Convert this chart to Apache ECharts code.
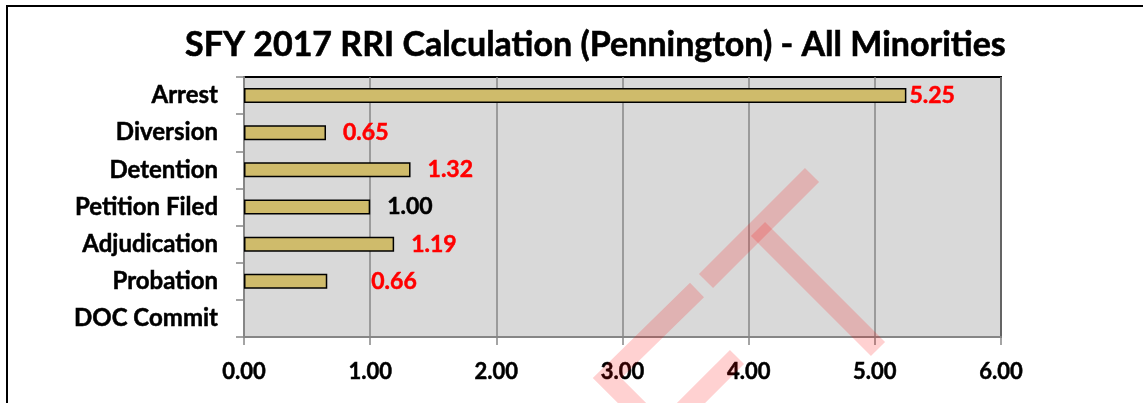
<!DOCTYPE html>
<html>
<head>
<meta charset="utf-8">
<title>SFY 2017 RRI Calculation</title>
<script src="https://cdn.jsdelivr.net/npm/echarts@6/dist/echarts.min.js"></script>
<style>
html,body{margin:0;padding:0;background:#fff;}
#main{width:1143px;height:403px;}
</style>
</head>
<body>
<div id="main"></div>
<script type="text/javascript">
// chart data
var categories = ['Arrest', 'Diversion', 'Detention', 'Petition Filed', 'Adjudication', 'Probation', 'DOC Commit'];
var rriValues = [5.25, 0.65, 1.32, 1.00, 1.19, 0.66, null];
var xTicks = ['0.00', '1.00', '2.00', '3.00', '4.00', '5.00', '6.00'];

var FONT = 'Lato, "Open Sans", sans-serif';
// label gap after the bar end, per category
var labelGap = [3, 17, 17, 17, 17, 44, 0];

var barData = [];
for (var i = 0; i < rriValues.length; i++) {
	var v = rriValues[i];
	if (v === null) { barData.push('-'); continue; }
	var c = (v === 1) ? '#000000' : '#ff0000';
	barData.push({
		value: v,
		label: {distance: labelGap[i], color: c, textBorderColor: c}
	});
}

var wm = 'rgba(255,0,0,0.18)';
var myChart = echarts.init(document.getElementById('main'), null, {renderer: 'canvas'});
var option = {
	animation: false,
	title: {
		text: 'SFY 2017 RRI Calculation (Pennington) - All Minorities',
		left: 180,
		top: 23,
		textStyle: {fontFamily: FONT, fontWeight: 'bold', fontSize: 34, color: '#000',
			textBorderColor: '#000', textBorderWidth: 0.6}
	},
	grid: {
		left: 244, right: 142, top: 77, bottom: 66,
		show: true, backgroundColor: '#d9d9d9', borderColor: '#000', borderWidth: 2
	},
	xAxis: {
		type: 'value', min: 0, max: 6, interval: 1,
		axisLine: {show: true, lineStyle: {color: '#868686', width: 2}},
		axisTick: {show: true, length: 8, lineStyle: {color: '#868686', width: 1.5}},
		splitLine: {show: true, lineStyle: {color: '#868686', width: 1.5}},
		axisLabel: {
			margin: 24, fontFamily: FONT, fontWeight: 'bold', fontSize: 22, color: '#000',
			textBorderColor: '#000', textBorderWidth: 0.5,
			formatter: function (val) { return xTicks[Math.round(val)]; }
		}
	},
	yAxis: {
		type: 'category', inverse: true, data: categories,
		axisLine: {show: true, lineStyle: {color: '#868686', width: 2}},
		axisTick: {show: true, length: 8, lineStyle: {color: '#868686', width: 1.5}},
		axisLabel: {margin: 26, fontFamily: FONT, fontWeight: 'bold', fontSize: 24, color: '#000',
			textBorderColor: '#000', textBorderWidth: 0.5}
	},
	series: [{
		type: 'bar',
		data: barData,
		barWidth: 15,
		itemStyle: {color: '#cfbb6b', borderColor: '#000', borderWidth: 1.5},
		label: {
			show: true, position: 'right',
			fontFamily: FONT, fontWeight: 'bold', fontSize: 23, textBorderWidth: 0.5,
			formatter: function (p) { return p.value.toFixed(2); }
		}
	}],
	graphic: [
		{type: 'polyline', z: 1, silent: true, shape: {points: [[7, 403], [7, 6], [1143, 6]]},
			style: {stroke: '#000', lineWidth: 2, fill: null}},
		{type: 'polyline', z: 100, silent: true, shape: {points: [[812, 175], [706, 281]]},
			style: {stroke: wm, lineWidth: 20, fill: null}},
		{type: 'polyline', z: 100, silent: true, shape: {points: [[697, 290], [607, 378], [660, 431]]},
			style: {stroke: wm, lineWidth: 20, fill: null, lineJoin: 'miter'}},
		{type: 'polyline', z: 100, silent: true, shape: {points: [[737, 357], [650, 444]]},
			style: {stroke: wm, lineWidth: 20, fill: null}},
		{type: 'polyline', z: 100, silent: true, shape: {points: [[758, 229], [878, 349]]},
			style: {stroke: wm, lineWidth: 20, fill: null}}
	]
};
myChart.setOption(option);
</script>
</body>
</html>
